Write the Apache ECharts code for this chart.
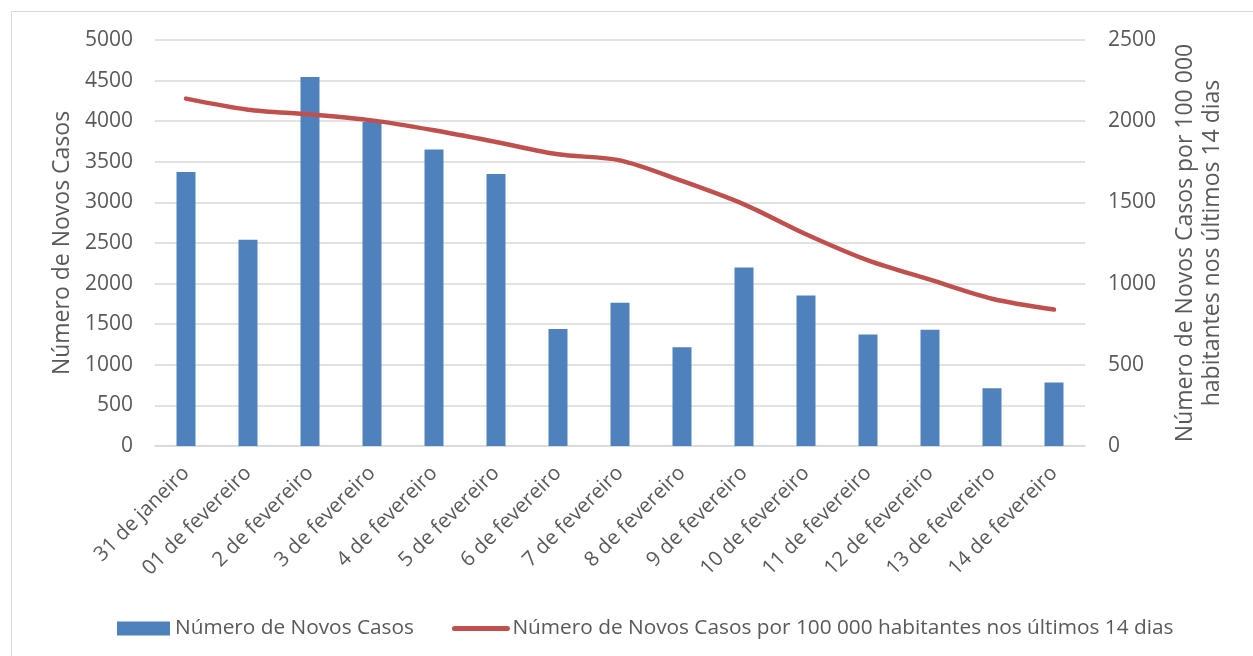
<!DOCTYPE html>
<html>
<head>
<meta charset="utf-8">
<script src="https://cdn.jsdelivr.net/npm/echarts@6/dist/echarts.min.js"></script>
<style>
html,body{margin:0;padding:0;background:#fff;overflow:hidden;}
#frame{position:absolute;left:11px;top:11px;width:1300px;height:700px;border:1px solid #d9d9d9;box-sizing:border-box;}
#chart{position:absolute;left:0;top:0;width:1253px;height:656px;}
</style>
</head>
<body>
<div id="frame"></div>
<div id="chart"></div>
<script>
const categories = ["31 de janeiro","01 de fevereiro","2 de fevereiro","3 de fevereiro","4 de fevereiro","5 de fevereiro","6 de fevereiro","7 de fevereiro","8 de fevereiro","9 de fevereiro","10 de fevereiro","11 de fevereiro","12 de fevereiro","13 de fevereiro","14 de fevereiro"];
const novosCasos = [3375, 2540, 4545, 3990, 3650, 3350, 1440, 1765, 1215, 2197, 1852, 1372, 1433, 711, 781];
const casosPor100k = [2139, 2071, 2042, 2005, 1944, 1872, 1796, 1759, 1632, 1488, 1304, 1143, 1024, 907, 840];
const barName = "Número de Novos Casos";
const lineName = "Número de Novos Casos por 100 000 habitantes nos últimos 14 dias";
const rightAxisName = "Número de Novos Casos por 100 000\nhabitantes nos últimos 14 dias";

const font = "'Open Sans', 'Noto Sans', sans-serif";
const txt = "#595959";
const chart = echarts.init(document.getElementById('chart'));
chart.setOption({
  animation: false,
  textStyle: {fontFamily: font},
  grid: {left: 155, right: 168, top: 40, bottom: 210},
  legend: {
    bottom: 12, left: 112,
    itemWidth: 53, itemHeight: 14, itemGap: 38,
    textStyle: {color: txt, fontSize: 20.8, fontFamily: font},
    data: [
      {name: barName, icon: 'rect'},
      {name: lineName, itemStyle: {opacity: 0}, lineStyle: {width: 5, color: '#c0504d', cap: 'round'}}
    ]
  },
  xAxis: {
    type: 'category', data: categories,
    axisLine: {lineStyle: {color: '#d9d9d9', width: 1.5}},
    axisTick: {show: false},
    axisLabel: {rotate: 45, color: txt, fontSize: 20.5, margin: 24, interval: 0}
  },
  yAxis: [{
    type: 'value', min: 0, max: 5000, interval: 500,
    name: barName, nameLocation: 'middle', nameGap: 80, nameRotate: 90,
    nameTextStyle: {color: txt, fontSize: 23},
    axisLabel: {color: txt, fontSize: 21, margin: 22, formatter: v => String(v)},
    splitLine: {lineStyle: {color: '#d9d9d9', width: 1.5}},
    axisLine: {show: false}, axisTick: {show: false}
  }, {
    type: 'value', min: 0, max: 2500, interval: 500,
    name: rightAxisName, nameLocation: 'middle', nameGap: 87, nameRotate: 90,
    nameTextStyle: {color: txt, fontSize: 23, lineHeight: 27},
    axisLabel: {color: txt, fontSize: 21, margin: 23, formatter: v => String(v)},
    splitLine: {show: false},
    axisLine: {show: false}, axisTick: {show: false}
  }],
  series: [{
    name: barName, type: 'bar', data: novosCasos, barWidth: 19,
    itemStyle: {color: '#4f81bd'}
  }, {
    name: lineName, type: 'line', yAxisIndex: 1, data: casosPor100k,
    smooth: 0.3, symbol: 'none',
    lineStyle: {color: '#c0504d', width: 4.5, cap: 'round'},
    itemStyle: {color: '#c0504d'}
  }]
});
</script>
</body>
</html>
